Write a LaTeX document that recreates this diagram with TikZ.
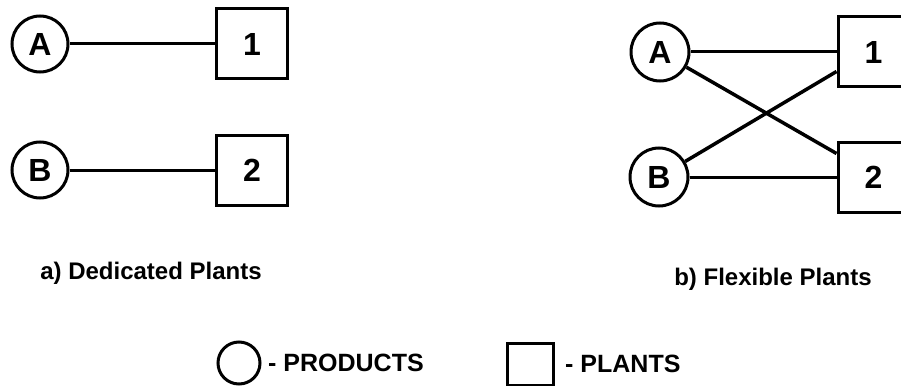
\documentclass[tikz,border=0pt]{standalone}
\usepackage{fontspec}
\setmainfont{Liberation Sans}
\begin{document}
\begin{tikzpicture}[x=1pt,y=-1pt]
            \tikzstyle{product} = [draw, line width=3pt, shape=circle, inner sep=0pt, minimum size=56pt, font=\fontsize{32}{36}\selectfont\bfseries]
            \tikzstyle{plant} = [draw, line width=3pt, shape=rectangle, inner sep=0pt, minimum width=71pt, minimum height=70pt, font=\fontsize{32}{36}\selectfont\bfseries]
            \tikzstyle{ann} = [draw=none, fill=none, text=black, inner sep=0pt, font=\fontsize{24}{28}\selectfont\bfseries]
            \tikzstyle{link} = [line width=3pt]
            \clip (0,0) rectangle (901,385);
            % a) dedicated plants
            \node[product] (pa) at (40,44) {A};
            \node[product] (pb) at (40,170) {B};
            \node[plant] (p1) at (252,44) {1};
            \node[plant] (p2) at (252,170) {2};
            \draw[link] (pa) edge (p1);
            \draw[link] (pb) edge (p2);
            \node[ann] (capa) at (151,273) {a) Dedicated Plants};
            % b) flexible plants
            \node[product, minimum size=58pt] (qa) at (660,52) {A};
            \node[product, minimum size=58pt] (qb) at (659,177) {B};
            \node[plant] (q1) at (873.5,52) {1};
            \node[plant] (q2) at (873.5,177) {2};
            \draw[link] (qa) edge (q1);
            \draw[link] (qb) edge (q2);
            \draw[link, line width=3.5pt] (qa) edge ([yshift=-13pt]q2.north west);
            \draw[link, line width=3.5pt] (qb) edge ([yshift=17pt]q1.south west);
            \node[ann] (capb) at (773,279) {b) Flexible Plants};
            % legend
            \node[product, minimum size=42pt] (lp) at (239,363) {};
            \node[ann, anchor=west, font=\fontsize{25}{28}\selectfont\bfseries] (lpt) at (268,363) {- PRODUCTS};
            \node[plant, minimum width=46pt, minimum height=42pt] (lq) at (530,364) {};
            \node[ann, anchor=west, font=\fontsize{25}{28}\selectfont\bfseries] (lqt) at (565,364) {- PLANTS};
        \end{tikzpicture}
\end{document}
